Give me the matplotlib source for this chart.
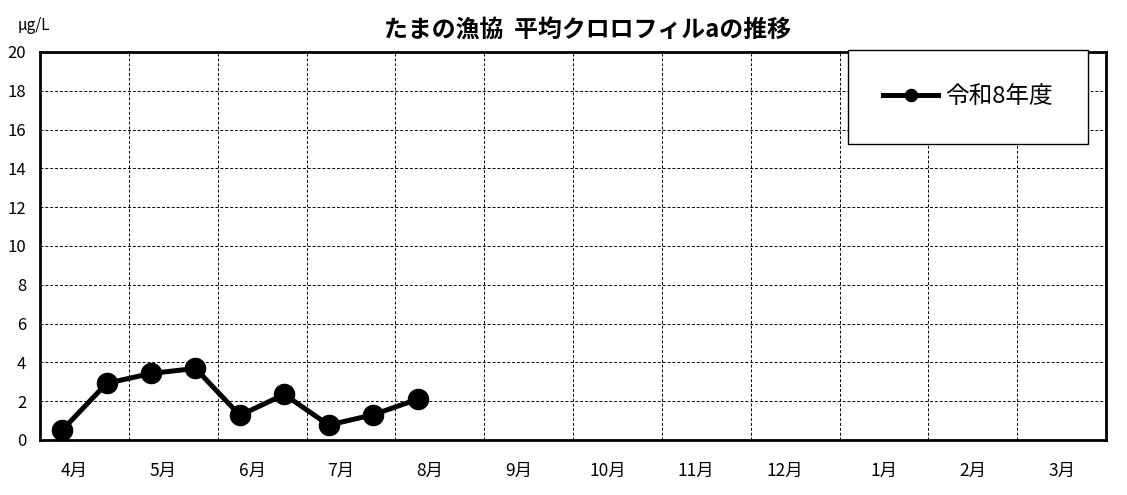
import matplotlib
matplotlib.use("Agg")
import matplotlib.pyplot as plt
import matplotlib.transforms as mtransforms
import numpy as np

plt.rcParams['font.family'] = ['Noto Sans CJK JP', 'DejaVu Sans']

months = ['4月', '5月', '6月', '7月', '8月', '9月', '10月', '11月', '12月', '1月', '2月', '3月']
half_month_pos = [0.25, 0.75, 1.25, 1.75, 2.25, 2.75, 3.25, 3.75, 4.25]
values = [0.51, 2.92, 3.43, 3.69, 1.27, 2.35, 0.77, 1.30, 2.10]
series_label = '令和8年度'
title = 'たまの漁協  平均クロロフィルaの推移'
unit = 'μg/L'

fig = plt.figure(figsize=(11.27, 4.95), dpi=100)
ax = fig.add_axes([40/1127, 1-440/495, (1106-40)/1127, (440-52)/495])

ax.plot(half_month_pos, values, color='black', lw=3.6, marker='o', ms=14.5,
        label=series_label, zorder=5, clip_on=False)

ax.set_xlim(0, 12)
ax.set_ylim(0, 20)
ax.set_xticks(np.arange(0, 13))
ax.set_xticklabels([])
ax.set_xticks(np.arange(12) + 0.5, minor=True)
ax.set_xticklabels(months, minor=True, fontsize=12.5)
ax.tick_params(axis='x', which='both', length=0, pad=16)
# Excel-like placement: labels for Apr-Dec sit slightly left of centre
for i, lab in enumerate(ax.get_xticklabels(minor=True)):
    if i < 9:
        lab.set_transform(lab.get_transform() +
                          mtransforms.ScaledTranslation(-10/100, 0, fig.dpi_scale_trans))
ax.set_yticks(np.arange(0, 21, 2))
ax.tick_params(axis='y', length=0, labelsize=12, pad=10)

ax.grid(True, which='major', color='black', linestyle=(0, (3, 2)), linewidth=0.7)
for s in ax.spines.values():
    s.set_linewidth(2)
    s.set_color('black')

fig.text(587/1127, 1-31/495, title, ha='center', va='center', fontsize=17.2, fontweight='bold')
fig.text(18/1127, 1-25/495, unit, ha='left', va='center', fontsize=11)

leg = ax.legend(loc='upper left', bbox_to_anchor=((848-40)/1066, (440-50)/388),
                fontsize=17, frameon=True, fancybox=False, edgecolor='black',
                framealpha=1, borderpad=1.5, handlelength=2.3, markerscale=0.6,
                borderaxespad=0, handletextpad=0.3)
leg.get_frame().set_linewidth(1.0)
leg.set_zorder(10)

fig.savefig('out.png', dpi=100)
